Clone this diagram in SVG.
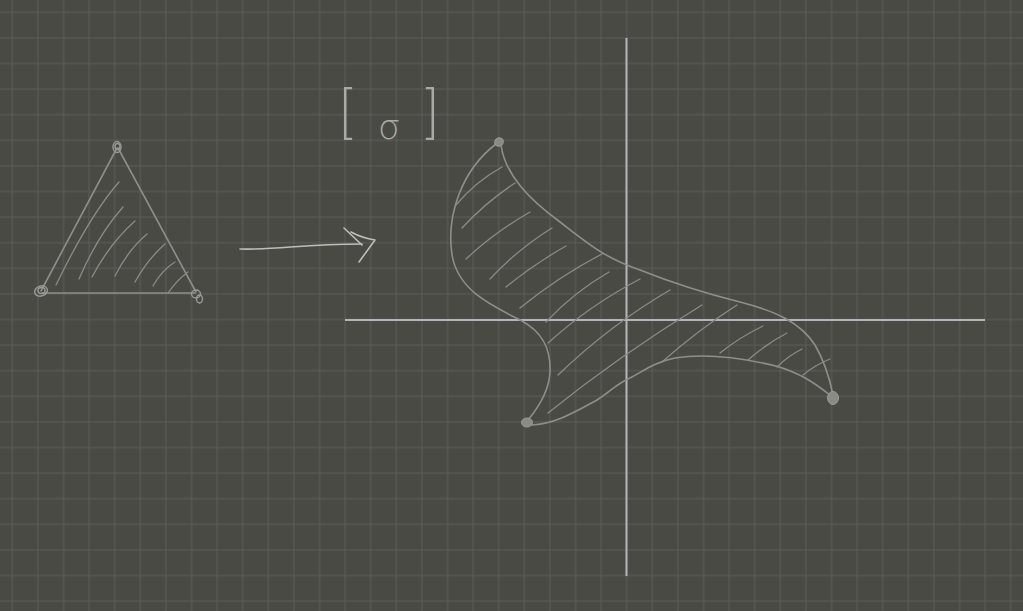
<svg xmlns="http://www.w3.org/2000/svg" width="1023" height="611" viewBox="0 0 1023 611">
<style>
.sk{fill:none;stroke:#8e8e8b;stroke-width:1.6;stroke-linecap:round;stroke-linejoin:round}
.ht{fill:none;stroke:#8a8a87;stroke-width:1.3;stroke-linecap:round}
.blob{fill:#8a8a87;stroke:#9a9a97;stroke-width:1}
.ring{fill:none;stroke:#999996;stroke-width:1.4}
.axis{stroke:#b3b6b9;stroke-width:2;fill:none}
.arr{fill:none;stroke:#bdbdbb;stroke-width:1.6;stroke-linecap:round;stroke-linejoin:round}
.mt{fill:#a9a9a6;font-family:Inter,'DejaVu Sans','Liberation Sans',sans-serif;font-weight:200}
</style>
<defs>
<pattern id="gridp" x="-0.5" y="-0.5" width="25.6" height="25.6" patternUnits="userSpaceOnUse">
<path d="M12.8,0 V25.6 M0,12.8 H25.6" stroke="#5c5c59" stroke-width="1" fill="none"/>
</pattern>
</defs>
<rect id="background" width="1023" height="611" fill="#4a4a45"/>
<rect id="grid" width="1023" height="611" fill="url(#gridp)"/>

<g id="axes">
<path class="axis" d="M345,320 H985"/>
<path class="axis" d="M626.5,38 V576" stroke="#b6bcc0"/>
</g>

<g id="triangle">
<path class="sk" d="M117,148 L41,291"/>
<path class="sk" d="M118,148 L196,292"/>
<path class="sk" d="M42,293 L195,293" stroke-width="2"/>
<path class="ht" d="M119,182 Q90,215 56,285"/>
<path class="ht" d="M123,207 Q98,235 79,279"/>
<path class="ht" d="M135,221 Q110,243 92,277"/>
<path class="ht" d="M147,234 Q128,250 115,276"/>
<path class="ht" d="M165,244 Q147,260 135,282"/>
<path class="ht" d="M175,262 Q162,270 153,286"/>
<path class="ht" d="M188,272 Q177,280 168,293"/>
<ellipse class="ring" cx="117" cy="147" rx="4" ry="5.5"/>
<ellipse class="ring" cx="117.5" cy="146.5" rx="2.5" ry="3"/>
<ellipse class="ring" cx="41" cy="291" rx="6.5" ry="5" transform="rotate(-20 41 291)"/>
<ellipse class="ring" cx="41.5" cy="290.5" rx="3.5" ry="3"/>
<ellipse class="ring" cx="196" cy="294" rx="4.5" ry="4"/>
<ellipse class="ring" cx="199.5" cy="299" rx="3" ry="4"/>
</g>

<g id="connectors">
<path class="arr" d="M240,249 C280,250 300,244 362,244"/>
<path class="arr" d="M344,228 L362,245"/>
<path class="arr" d="M351,232 Q362,238 375,240 L359,262"/>
</g>

<g id="matrix">
<text class="mt" x="337" y="132" font-size="58">[</text>
<text class="mt" x="389" y="139" font-size="34" text-anchor="middle">σ</text>
<text class="mt" x="441" y="132" font-size="58" text-anchor="end">]</text>
</g>

<g id="deformed">
<path class="sk" d="M496,144 C462,170 446,215 452,255 C458,290 490,305 522,321 C542,332 551,348 550,372 C549,392 538,408 528,420"/>
<path class="sk" d="M501,145 C505,175 530,200 560,222 C590,245 605,258 640,270 C665,280 700,292 740,302 C775,311 800,322 815,345 C825,362 830,380 833,395"/>
<path class="sk" d="M531,425 C555,424 575,412 597,400 C612,390 618,383 630,378 C645,370 655,362 675,358 C700,354 730,355 776,366 C800,373 815,383 831,396"/>
<path class="ht" d="M502,167 Q475,182 456,205"/>
<path class="ht" d="M515,183 Q486,202 462,228"/>
<path class="ht" d="M530,212 Q495,232 466,259"/>
<path class="ht" d="M552,228 Q518,249 490,279"/>
<path class="ht" d="M566,246 Q534,264 506,287"/>
<path class="ht" d="M602,254 Q558,277 520,308"/>
<path class="ht" d="M609,272 Q574,292 546,322"/>
<path class="ht" d="M640,279 Q590,305 548,343"/>
<path class="ht" d="M670,290 Q610,325 558,375"/>
<path class="ht" d="M702,305 Q620,355 548,413"/>
<path class="ht" d="M737,305 Q698,330 662,362"/>
<path class="ht" d="M763,326 Q740,337 720,353"/>
<path class="ht" d="M787,333 Q766,344 748,360"/>
<path class="ht" d="M802,349 Q788,356 777,367"/>
<path class="ht" d="M830,359 Q815,365 803,375"/>
<ellipse class="blob" cx="499" cy="142" rx="4.5" ry="4" transform="rotate(-30 499 142)"/>
<ellipse class="blob" cx="527" cy="422.5" rx="5.5" ry="4.5"/>
<ellipse class="blob" cx="833" cy="398" rx="5.5" ry="6.5"/>
</g>
</svg>
